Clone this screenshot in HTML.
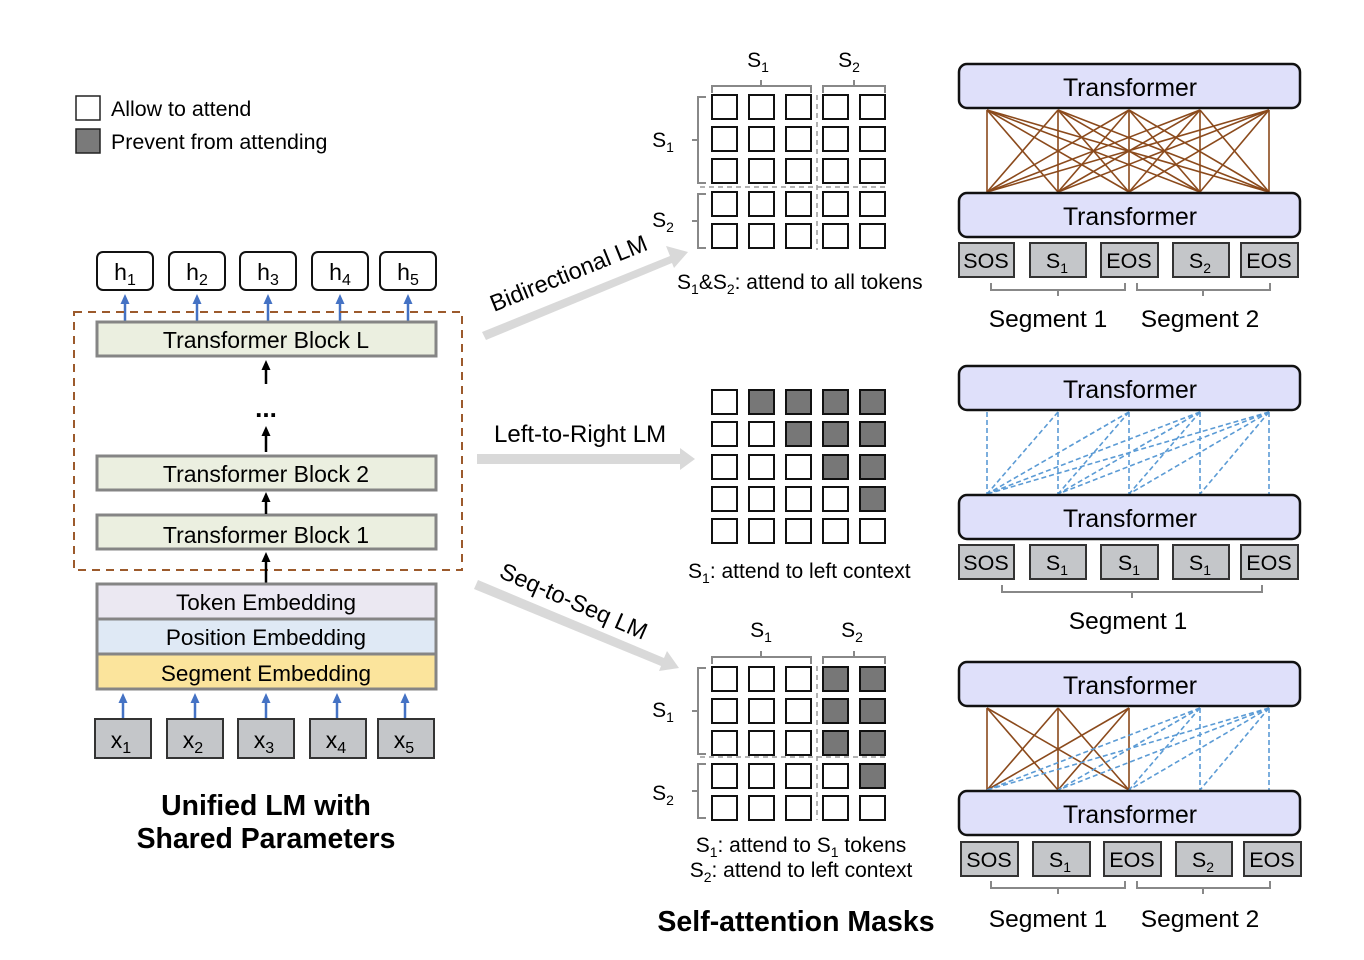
<!DOCTYPE html>
<html><head><meta charset="utf-8"><style>
html,body{margin:0;padding:0;background:#fff;}
svg{display:block;font-family:"Liberation Sans",Arial,sans-serif;}
</style></head><body>
<svg width="1364" height="960" viewBox="0 0 1364 960" xmlns="http://www.w3.org/2000/svg">
<defs>
<marker id="ab" markerUnits="userSpaceOnUse" markerWidth="10" markerHeight="10" refX="2" refY="5" orient="auto"><path d="M0,0.5 L10,5 L0,9.5 z" fill="#000"/></marker>
<marker id="abl" markerUnits="userSpaceOnUse" markerWidth="10" markerHeight="10" refX="2" refY="5" orient="auto"><path d="M0,0.5 L10,5 L0,9.5 z" fill="#4472c4"/></marker>
</defs>
<!-- Legend -->
<rect x="76" y="96" width="24" height="24" fill="#fff" stroke="#222" stroke-width="1.5"/>
<rect x="76" y="129" width="24" height="24" fill="#7a7a7a" stroke="#222" stroke-width="1.5"/>
<text x="111" y="116" font-size="21.4">Allow to attend</text>
<text x="111" y="149" font-size="21.4">Prevent from attending</text>

<!-- h boxes -->
<g fill="#fff" stroke="#111" stroke-width="2">
<rect x="97" y="252" width="56" height="38" rx="6"/>
<rect x="169" y="252" width="56" height="38" rx="6"/>
<rect x="240" y="252" width="56" height="38" rx="6"/>
<rect x="312" y="252" width="56" height="38" rx="6"/>
<rect x="380" y="252" width="56" height="38" rx="6"/>
</g>
<g font-size="23" text-anchor="middle">
<text x="125" y="280">h<tspan font-size="16" dy="5">1</tspan></text>
<text x="197" y="280">h<tspan font-size="16" dy="5">2</tspan></text>
<text x="268" y="280">h<tspan font-size="16" dy="5">3</tspan></text>
<text x="340" y="280">h<tspan font-size="16" dy="5">4</tspan></text>
<text x="408" y="280">h<tspan font-size="16" dy="5">5</tspan></text>
</g>
<!-- blue arrows top -->
<g stroke="#4472c4" stroke-width="2.5" marker-end="url(#abl)">
<line x1="125" y1="321" x2="125" y2="302"/>
<line x1="197" y1="321" x2="197" y2="302"/>
<line x1="268" y1="321" x2="268" y2="302"/>
<line x1="340" y1="321" x2="340" y2="302"/>
<line x1="408" y1="321" x2="408" y2="302"/>
</g>
<!-- dashed box -->
<rect x="74" y="312" width="388" height="258" fill="none" stroke="#9c5a2c" stroke-width="2" stroke-dasharray="8,6"/>
<!-- blocks -->
<g fill="#ebefe0" stroke="#858585" stroke-width="3">
<rect x="97" y="322" width="339" height="34"/>
<rect x="97" y="456" width="339" height="34"/>
<rect x="97" y="515" width="339" height="34"/>
</g>
<g font-size="23" text-anchor="middle">
<text x="266" y="348">Transformer Block L</text>
<text x="266" y="482">Transformer Block 2</text>
<text x="266" y="543">Transformer Block 1</text>
</g>
<g stroke="#000" stroke-width="2.5" marker-end="url(#ab)">
<line x1="266" y1="384" x2="266" y2="368"/>
<line x1="266" y1="452" x2="266" y2="434"/>
<line x1="266" y1="514" x2="266" y2="500"/>
<line x1="266" y1="583" x2="266" y2="560"/>
</g>
<text x="266" y="417" font-size="26" font-weight="bold" text-anchor="middle">...</text>
<!-- embeddings -->
<rect x="97" y="584" width="339" height="35" fill="#ebe8f2" stroke="#858585" stroke-width="3"/>
<rect x="97" y="619" width="339" height="35" fill="#dfe9f5" stroke="#858585" stroke-width="3"/>
<rect x="97" y="654" width="339" height="35" fill="#fbe49c" stroke="#858585" stroke-width="3"/>
<g font-size="22.5" text-anchor="middle">
<text x="266" y="610">Token Embedding</text>
<text x="266" y="645">Position Embedding</text>
<text x="266" y="681">Segment Embedding</text>
</g>
<g stroke="#4472c4" stroke-width="2.5" marker-end="url(#abl)">
<line x1="123" y1="718" x2="123" y2="701"/>
<line x1="195" y1="718" x2="195" y2="701"/>
<line x1="266" y1="718" x2="266" y2="701"/>
<line x1="337" y1="718" x2="337" y2="701"/>
<line x1="405" y1="718" x2="405" y2="701"/>
</g>
<g fill="#c4c6c9" stroke="#333" stroke-width="2">
<rect x="95" y="719" width="56" height="39"/>
<rect x="167" y="719" width="56" height="39"/>
<rect x="238" y="719" width="56" height="39"/>
<rect x="310" y="719" width="56" height="39"/>
<rect x="378" y="719" width="56" height="39"/>
</g>
<g font-size="23" text-anchor="middle">
<text x="121" y="748">x<tspan font-size="16" dy="5">1</tspan></text>
<text x="193" y="748">x<tspan font-size="16" dy="5">2</tspan></text>
<text x="264" y="748">x<tspan font-size="16" dy="5">3</tspan></text>
<text x="336" y="748">x<tspan font-size="16" dy="5">4</tspan></text>
<text x="404" y="748">x<tspan font-size="16" dy="5">5</tspan></text>
</g>
<g font-size="28.4" font-weight="bold" text-anchor="middle">
<text x="266" y="815">Unified LM with</text>
<text x="266" y="848">Shared Parameters</text>
</g>

<!-- big arrows -->
<g fill="#d9d9d9">
<polygon points="482,332 670,256 666,246 688,252 674,268 672,263 486,340"/>
<polygon points="477,454 680,454 680,448 695,459 680,470 680,464 477,464"/>
<polygon points="478,580 664,658 667,651 679,668 659,671 661,666 474,589"/>
</g>
<text transform="translate(494,312) rotate(-22)" font-size="23.5">Bidirectional LM</text>
<text x="494" y="442" font-size="24">Left-to-Right LM</text>
<text transform="translate(498,577) rotate(23.5)" font-size="23.5">Seq-to-Seq LM</text>

<!-- Grid 1 -->
<g fill="none" stroke="#888" stroke-width="2">
<path d="M712,93 V86 H811 V93 M761,86 V80"/>
<path d="M823,93 V86 H885 V93 M854,86 V80"/>
<path d="M706,97 H698 V183 H706 M698,140 H692"/>
<path d="M706,194 H698 V248 H706 M698,221 H692"/>
</g>
<g fill="none" stroke="#999" stroke-width="1.5" stroke-dasharray="5,4">
<line x1="817" y1="95" x2="817" y2="250"/>
<line x1="700" y1="187" x2="886" y2="187"/>
</g>
<g fill="#fff" stroke="#111" stroke-width="2">
<rect x="712" y="95" width="25" height="24"/><rect x="749" y="95" width="25" height="24"/><rect x="786" y="95" width="25" height="24"/><rect x="823" y="95" width="25" height="24"/><rect x="860" y="95" width="25" height="24"/>
<rect x="712" y="127" width="25" height="24"/><rect x="749" y="127" width="25" height="24"/><rect x="786" y="127" width="25" height="24"/><rect x="823" y="127" width="25" height="24"/><rect x="860" y="127" width="25" height="24"/>
<rect x="712" y="159" width="25" height="24"/><rect x="749" y="159" width="25" height="24"/><rect x="786" y="159" width="25" height="24"/><rect x="823" y="159" width="25" height="24"/><rect x="860" y="159" width="25" height="24"/>
<rect x="712" y="192" width="25" height="24"/><rect x="749" y="192" width="25" height="24"/><rect x="786" y="192" width="25" height="24"/><rect x="823" y="192" width="25" height="24"/><rect x="860" y="192" width="25" height="24"/>
<rect x="712" y="224" width="25" height="24"/><rect x="749" y="224" width="25" height="24"/><rect x="786" y="224" width="25" height="24"/><rect x="823" y="224" width="25" height="24"/><rect x="860" y="224" width="25" height="24"/>
</g>
<g font-size="21" text-anchor="middle">
<text x="758" y="67">S<tspan font-size="14" dy="5">1</tspan></text>
<text x="849" y="67">S<tspan font-size="14" dy="5">2</tspan></text>
<text x="663" y="147">S<tspan font-size="14" dy="5">1</tspan></text>
<text x="663" y="227">S<tspan font-size="14" dy="5">2</tspan></text>
</g>
<text x="677" y="289" font-size="21">S<tspan font-size="14" dy="5">1</tspan><tspan dy="-5">&amp;S</tspan><tspan font-size="14" dy="5">2</tspan><tspan dy="-5">: attend to all tokens</tspan></text>

<!-- Grid 2 -->
<g stroke="#111" stroke-width="2">
<rect x="712" y="390" width="25" height="24" fill="#fff"/><rect x="749" y="390" width="25" height="24" fill="#777"/><rect x="786" y="390" width="25" height="24" fill="#777"/><rect x="823" y="390" width="25" height="24" fill="#777"/><rect x="860" y="390" width="25" height="24" fill="#777"/>
<rect x="712" y="422" width="25" height="24" fill="#fff"/><rect x="749" y="422" width="25" height="24" fill="#fff"/><rect x="786" y="422" width="25" height="24" fill="#777"/><rect x="823" y="422" width="25" height="24" fill="#777"/><rect x="860" y="422" width="25" height="24" fill="#777"/>
<rect x="712" y="455" width="25" height="24" fill="#fff"/><rect x="749" y="455" width="25" height="24" fill="#fff"/><rect x="786" y="455" width="25" height="24" fill="#fff"/><rect x="823" y="455" width="25" height="24" fill="#777"/><rect x="860" y="455" width="25" height="24" fill="#777"/>
<rect x="712" y="487" width="25" height="24" fill="#fff"/><rect x="749" y="487" width="25" height="24" fill="#fff"/><rect x="786" y="487" width="25" height="24" fill="#fff"/><rect x="823" y="487" width="25" height="24" fill="#fff"/><rect x="860" y="487" width="25" height="24" fill="#777"/>
<rect x="712" y="519" width="25" height="24" fill="#fff"/><rect x="749" y="519" width="25" height="24" fill="#fff"/><rect x="786" y="519" width="25" height="24" fill="#fff"/><rect x="823" y="519" width="25" height="24" fill="#fff"/><rect x="860" y="519" width="25" height="24" fill="#fff"/>
</g>
<text x="688" y="578" font-size="21">S<tspan font-size="14" dy="5">1</tspan><tspan dy="-5">: attend to left context</tspan></text>

<!-- Grid 3 -->
<g fill="none" stroke="#888" stroke-width="2">
<path d="M712,664 V657 H811 V664 M761,657 V651"/>
<path d="M823,664 V657 H885 V664 M854,657 V651"/>
<path d="M706,668 H698 V754 H706 M698,711 H692"/>
<path d="M706,764 H698 V818 H706 M698,791 H692"/>
</g>
<g fill="none" stroke="#999" stroke-width="1.5" stroke-dasharray="5,4">
<line x1="817" y1="666" x2="817" y2="820"/>
<line x1="700" y1="757" x2="886" y2="757"/>
</g>
<g stroke="#111" stroke-width="2">
<rect x="712" y="667" width="25" height="24" fill="#fff"/><rect x="749" y="667" width="25" height="24" fill="#fff"/><rect x="786" y="667" width="25" height="24" fill="#fff"/><rect x="823" y="667" width="25" height="24" fill="#777"/><rect x="860" y="667" width="25" height="24" fill="#777"/>
<rect x="712" y="699" width="25" height="24" fill="#fff"/><rect x="749" y="699" width="25" height="24" fill="#fff"/><rect x="786" y="699" width="25" height="24" fill="#fff"/><rect x="823" y="699" width="25" height="24" fill="#777"/><rect x="860" y="699" width="25" height="24" fill="#777"/>
<rect x="712" y="731" width="25" height="24" fill="#fff"/><rect x="749" y="731" width="25" height="24" fill="#fff"/><rect x="786" y="731" width="25" height="24" fill="#fff"/><rect x="823" y="731" width="25" height="24" fill="#777"/><rect x="860" y="731" width="25" height="24" fill="#777"/>
<rect x="712" y="764" width="25" height="24" fill="#fff"/><rect x="749" y="764" width="25" height="24" fill="#fff"/><rect x="786" y="764" width="25" height="24" fill="#fff"/><rect x="823" y="764" width="25" height="24" fill="#fff"/><rect x="860" y="764" width="25" height="24" fill="#777"/>
<rect x="712" y="796" width="25" height="24" fill="#fff"/><rect x="749" y="796" width="25" height="24" fill="#fff"/><rect x="786" y="796" width="25" height="24" fill="#fff"/><rect x="823" y="796" width="25" height="24" fill="#fff"/><rect x="860" y="796" width="25" height="24" fill="#fff"/>
</g>
<g font-size="21" text-anchor="middle">
<text x="761" y="637">S<tspan font-size="14" dy="5">1</tspan></text>
<text x="852" y="637">S<tspan font-size="14" dy="5">2</tspan></text>
<text x="663" y="717">S<tspan font-size="14" dy="5">1</tspan></text>
<text x="663" y="800">S<tspan font-size="14" dy="5">2</tspan></text>
</g>
<text x="801" y="852" font-size="21" text-anchor="middle">S<tspan font-size="14" dy="5">1</tspan><tspan dy="-5">: attend to S</tspan><tspan font-size="14" dy="5">1</tspan><tspan dy="-5"> tokens</tspan></text>
<text x="801" y="877" font-size="21" text-anchor="middle">S<tspan font-size="14" dy="5">2</tspan><tspan dy="-5">: attend to left context</tspan></text>
<text x="796" y="931" font-size="28.5" font-weight="bold" text-anchor="middle">Self-attention Masks</text>

<!-- Panel 1 lines -->
<g stroke="#8b4a1c" stroke-width="1.6">
<line x1="987" y1="110" x2="987" y2="192"/><line x1="987" y1="110" x2="1058" y2="192"/><line x1="987" y1="110" x2="1129" y2="192"/><line x1="987" y1="110" x2="1200" y2="192"/><line x1="987" y1="110" x2="1269" y2="192"/>
<line x1="1058" y1="110" x2="987" y2="192"/><line x1="1058" y1="110" x2="1058" y2="192"/><line x1="1058" y1="110" x2="1129" y2="192"/><line x1="1058" y1="110" x2="1200" y2="192"/><line x1="1058" y1="110" x2="1269" y2="192"/>
<line x1="1129" y1="110" x2="987" y2="192"/><line x1="1129" y1="110" x2="1058" y2="192"/><line x1="1129" y1="110" x2="1129" y2="192"/><line x1="1129" y1="110" x2="1200" y2="192"/><line x1="1129" y1="110" x2="1269" y2="192"/>
<line x1="1200" y1="110" x2="987" y2="192"/><line x1="1200" y1="110" x2="1058" y2="192"/><line x1="1200" y1="110" x2="1129" y2="192"/><line x1="1200" y1="110" x2="1200" y2="192"/><line x1="1200" y1="110" x2="1269" y2="192"/>
<line x1="1269" y1="110" x2="987" y2="192"/><line x1="1269" y1="110" x2="1058" y2="192"/><line x1="1269" y1="110" x2="1129" y2="192"/><line x1="1269" y1="110" x2="1200" y2="192"/><line x1="1269" y1="110" x2="1269" y2="192"/>
</g>
<!-- Panel 2 lines -->
<g stroke="#5b9bd5" stroke-width="1.6" stroke-dasharray="5,3">
<line x1="987" y1="412" x2="987" y2="494"/>
<line x1="1058" y1="412" x2="987" y2="494"/><line x1="1058" y1="412" x2="1058" y2="494"/>
<line x1="1129" y1="412" x2="987" y2="494"/><line x1="1129" y1="412" x2="1058" y2="494"/><line x1="1129" y1="412" x2="1129" y2="494"/>
<line x1="1200" y1="412" x2="987" y2="494"/><line x1="1200" y1="412" x2="1058" y2="494"/><line x1="1200" y1="412" x2="1129" y2="494"/><line x1="1200" y1="412" x2="1200" y2="494"/>
<line x1="1269" y1="412" x2="987" y2="494"/><line x1="1269" y1="412" x2="1058" y2="494"/><line x1="1269" y1="412" x2="1129" y2="494"/><line x1="1269" y1="412" x2="1200" y2="494"/><line x1="1269" y1="412" x2="1269" y2="494"/>
</g>
<!-- Panel 3 lines -->
<g stroke="#8b4a1c" stroke-width="1.6">
<line x1="987" y1="708" x2="987" y2="790"/><line x1="987" y1="708" x2="1058" y2="790"/><line x1="987" y1="708" x2="1129" y2="790"/>
<line x1="1058" y1="708" x2="987" y2="790"/><line x1="1058" y1="708" x2="1058" y2="790"/><line x1="1058" y1="708" x2="1129" y2="790"/>
<line x1="1129" y1="708" x2="987" y2="790"/><line x1="1129" y1="708" x2="1058" y2="790"/><line x1="1129" y1="708" x2="1129" y2="790"/>
</g>
<g stroke="#5b9bd5" stroke-width="1.6" stroke-dasharray="5,3">
<line x1="1200" y1="708" x2="987" y2="790"/><line x1="1200" y1="708" x2="1058" y2="790"/><line x1="1200" y1="708" x2="1129" y2="790"/><line x1="1200" y1="708" x2="1200" y2="790"/>
<line x1="1269" y1="708" x2="987" y2="790"/><line x1="1269" y1="708" x2="1058" y2="790"/><line x1="1269" y1="708" x2="1129" y2="790"/><line x1="1269" y1="708" x2="1200" y2="790"/><line x1="1269" y1="708" x2="1269" y2="790"/>
</g>

<!-- Transformers -->
<g fill="#dfe0fa" stroke="#111" stroke-width="2.5">
<rect x="959" y="64" width="341" height="44" rx="8"/>
<rect x="959" y="193" width="341" height="44" rx="8"/>
<rect x="959" y="366" width="341" height="44" rx="8"/>
<rect x="959" y="495" width="341" height="44" rx="8"/>
<rect x="959" y="662" width="341" height="44" rx="8"/>
<rect x="959" y="791" width="341" height="44" rx="8"/>
</g>
<g font-size="24.8" text-anchor="middle">
<text x="1130" y="96">Transformer</text>
<text x="1130" y="225">Transformer</text>
<text x="1130" y="398">Transformer</text>
<text x="1130" y="527">Transformer</text>
<text x="1130" y="694">Transformer</text>
<text x="1130" y="823">Transformer</text>
</g>
<!-- tokens -->
<g fill="#c4c6c9" stroke="#333" stroke-width="2">
<rect x="959" y="243" width="55" height="34"/><rect x="1030" y="243" width="56" height="34"/><rect x="1101" y="243" width="57" height="34"/><rect x="1173" y="243" width="56" height="34"/><rect x="1241" y="243" width="57" height="34"/>
<rect x="959" y="545" width="55" height="34"/><rect x="1030" y="545" width="56" height="34"/><rect x="1101" y="545" width="57" height="34"/><rect x="1173" y="545" width="56" height="34"/><rect x="1241" y="545" width="57" height="34"/>
<rect x="961" y="842" width="57" height="34"/><rect x="1033" y="842" width="57" height="34"/><rect x="1104" y="842" width="57" height="34"/><rect x="1176" y="842" width="56" height="34"/><rect x="1244" y="842" width="57" height="34"/>
</g>
<g font-size="21.5" text-anchor="middle">
<text x="986" y="268">SOS</text><text x="1057" y="268">S<tspan font-size="14" dy="5">1</tspan></text><text x="1129" y="268">EOS</text><text x="1200" y="268">S<tspan font-size="14" dy="5">2</tspan></text><text x="1269" y="268">EOS</text>
<text x="986" y="570">SOS</text><text x="1057" y="570">S<tspan font-size="14" dy="5">1</tspan></text><text x="1129" y="570">S<tspan font-size="14" dy="5">1</tspan></text><text x="1200" y="570">S<tspan font-size="14" dy="5">1</tspan></text><text x="1269" y="570">EOS</text>
<text x="989" y="867">SOS</text><text x="1060" y="867">S<tspan font-size="14" dy="5">1</tspan></text><text x="1132" y="867">EOS</text><text x="1203" y="867">S<tspan font-size="14" dy="5">2</tspan></text><text x="1272" y="867">EOS</text>
</g>
<!-- segment brackets -->
<g fill="none" stroke="#888" stroke-width="2">
<path d="M991,283 V290 H1125 V283 M1058,290 V296"/>
<path d="M1137,283 V290 H1270 V283 M1203,290 V296"/>
<path d="M1002,585 V592 H1262 V585 M1132,592 V598"/>
<path d="M991,881 V888 H1125 V881 M1058,888 V894"/>
<path d="M1137,881 V888 H1270 V881 M1203,888 V894"/>
</g>
<g font-size="24.5" text-anchor="middle">
<text x="1048" y="327">Segment 1</text>
<text x="1200" y="327">Segment 2</text>
<text x="1128" y="629">Segment 1</text>
<text x="1048" y="927">Segment 1</text>
<text x="1200" y="927">Segment 2</text>
</g>
</svg>
</body></html>
